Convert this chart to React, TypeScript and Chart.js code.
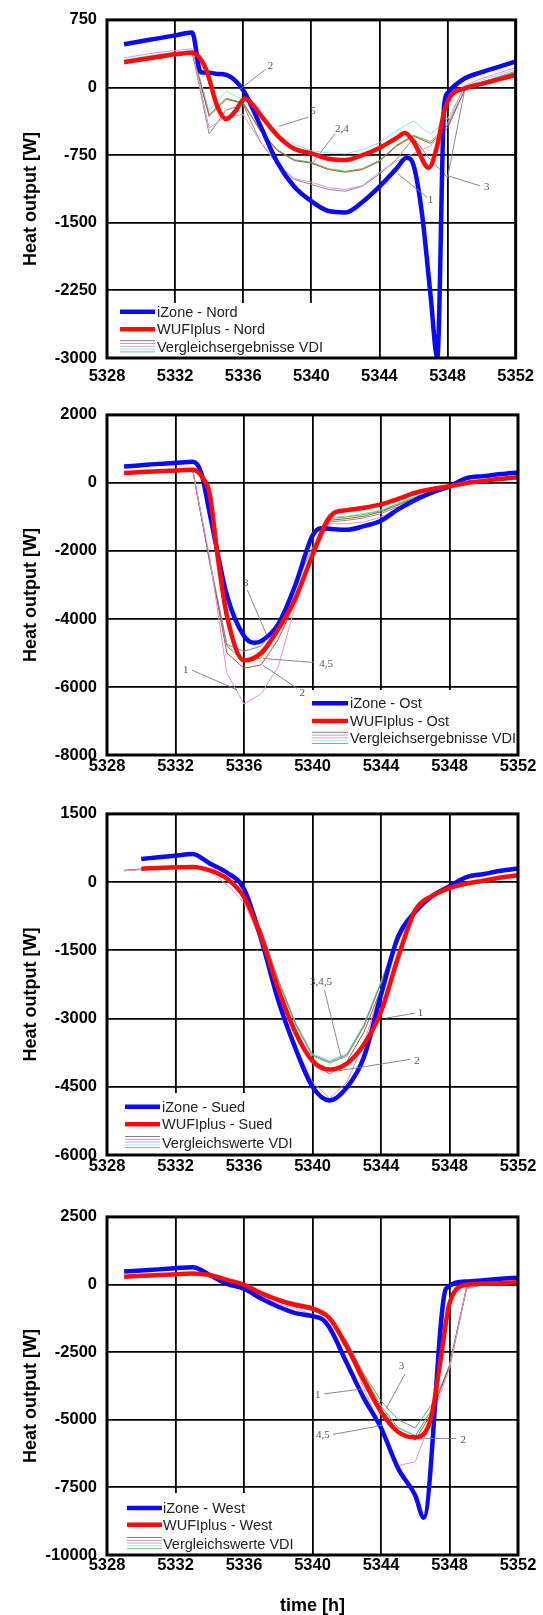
import React, { useEffect, useRef } from 'react';
import { Chart, registerables } from 'chart.js';

Chart.register(...registerables);

// ---------- shared axis values ----------
const HOURS = [5329, 5330, 5331, 5332, 5333, 5334, 5335, 5336, 5337, 5338, 5339, 5340, 5341, 5342, 5343, 5344, 5345, 5346, 5347, 5348, 5349, 5350, 5351, 5352];
const X_MIN = 5328;
const X_MAX = 5352;
const X_STEP = 4;
const Y_TITLE = 'Heat output [W]';
const X_TITLE = 'time [h]';
const VDI_COLORS = ['#e38fe3', '#b5503c', '#8a8a8a', '#4cc24c', '#86e3ea'];
const VDI_LEGEND_COLORS = ['#7f7f7f', '#b0a4c8', '#e49ae4', '#9ee6ee', '#66cc66'];

// ---------- Nord ----------
const NORD_IZONE_X = [5329, 5330, 5331, 5332, 5333, 5333.5, 5334, 5334.5, 5335, 5336, 5337, 5338, 5339, 5340, 5341, 5342, 5343, 5344, 5345, 5345.6, 5346, 5346.5, 5347, 5347.4, 5347.8, 5348, 5349, 5350, 5351, 5352];
const NORD_IZONE_Y = [480, 513, 545, 578, 610, 170, 165, 150, 140, -30, -420, -830, -1100, -1260, -1370, -1385, -1270, -1100, -900, -780, -860, -1400, -2300, -2990, -200, -60, 100, 170, 230, 290];
const NORD_WUFI_X = [5329, 5330, 5331, 5332, 5333, 5333.8, 5334.5, 5335, 5335.5, 5336.1, 5336.6, 5337, 5338, 5339, 5340, 5341, 5342, 5343, 5344, 5345, 5345.5, 5346, 5346.9, 5347.4, 5347.8, 5348.2, 5349, 5350, 5351, 5352];
const NORD_WUFI_Y = [280, 310, 340, 368, 385, 210, -220, -350, -270, -125, -200, -300, -530, -680, -730, -790, -805, -750, -670, -560, -505, -600, -890, -640, -270, -90, -10, 40, 90, 140];
const NORD_VDI_1 = [330, 360, 390, 410, 430, -450, -320, -300, -600, -850, -1010, -1050, -1110, -1130, -1090, -940, -820, -730, -650, -400, 20, 100, 160, 220];
const NORD_VDI_2 = [290, 320, 350, 370, 390, -320, -130, -175, -480, -700, -810, -840, -910, -940, -910, -820, -650, -540, -620, -450, -30, 50, 100, 160];
const NORD_VDI_3 = [300, 330, 360, 385, 400, -515, -250, -190, -600, -850, -1020, -1075, -1130, -1150, -1095, -960, -800, -560, -800, -1000, -30, 60, 120, 180];
const NORD_VDI_4 = [300, 330, 355, 375, 395, -300, -120, -170, -470, -690, -800, -830, -900, -930, -900, -810, -640, -530, -600, -420, -30, 60, 110, 170];
const NORD_VDI_5 = [310, 340, 370, 390, 410, -260, -40, -140, -340, -520, -630, -700, -725, -735, -690, -610, -480, -370, -520, -350, 0, 80, 140, 200];
const NORD_Y = { min: -3000, max: 750, step: 750 };
const NORD_NOTES = [
  { text: '2', tx: 5337.6, ty: 235, x1: 5337.3, y1: 200, x2: 5335.8, y2: -20 },
  { text: '5', tx: 5340.1, ty: -260, x1: 5339.8, y1: -330, x2: 5338.1, y2: -430 },
  { text: '2,4', tx: 5341.8, ty: -463, x1: 5341.4, y1: -510, x2: 5340.1, y2: -832 },
  { text: '1', tx: 5347.0, ty: -1254, x1: 5346.8, y1: -1220, x2: 5345.1, y2: -960 },
  { text: '3', tx: 5350.3, ty: -1107, x1: 5349.9, y1: -1090, x2: 5348.0, y2: -978 },
];

// ---------- Ost ----------
const OST_IZONE_X = [5329, 5330, 5331, 5332, 5333, 5333.5, 5334, 5335, 5336, 5336.6, 5337, 5338, 5339, 5340, 5340.5, 5341, 5342, 5343, 5344, 5345, 5346, 5347, 5348, 5349, 5350, 5351, 5352];
const OST_IZONE_Y = [480, 520, 560, 590, 620, 300, -900, -3300, -4500, -4700, -4650, -4150, -3000, -1550, -1330, -1350, -1380, -1270, -1110, -780, -500, -280, -100, 140, 200, 260, 310];
const OST_WUFI_X = [5329, 5330, 5331, 5332, 5333, 5333.6, 5334, 5334.5, 5335, 5336, 5337, 5338, 5339, 5340, 5340.8, 5341.3, 5342, 5343, 5344, 5345, 5346, 5347, 5348, 5349, 5350, 5351, 5352];
const OST_WUFI_Y = [290, 320, 345, 365, 385, 145, -340, -2300, -3900, -5220, -5000, -4300, -3400, -2120, -1160, -870, -800, -730, -630, -470, -290, -180, -100, 0, 60, 120, 170];
const OST_VDI_1 = [300, 330, 350, 370, 380, -2200, -5600, -6500, -6200, -5400, -3600, -2100, -1200, -1200, -1150, -1000, -750, -500, -300, -130, -20, 50, 100, 150];
const OST_VDI_2 = [290, 320, 345, 365, 380, -2300, -5000, -5450, -5350, -4600, -3500, -2200, -1100, -1050, -980, -850, -650, -450, -270, -120, -20, 50, 100, 150];
const OST_VDI_3 = [300, 330, 350, 370, 385, -2350, -4750, -4950, -4800, -4100, -3000, -1900, -1150, -1100, -1030, -900, -700, -480, -280, -120, -20, 50, 100, 150];
const OST_VDI_4 = [300, 330, 350, 370, 385, -2300, -4800, -5250, -5150, -4400, -3300, -2050, -1050, -1000, -930, -820, -620, -420, -250, -110, -20, 50, 100, 150];
const OST_VDI_5 = [300, 330, 350, 370, 385, -2250, -4750, -5200, -5100, -4350, -3250, -2000, -1000, -980, -900, -800, -600, -400, -240, -110, -20, 50, 100, 150];
const OST_Y = { min: -8000, max: 2000, step: 2000 };
const OST_NOTES = [
  { text: '3', tx: 5336.1, ty: -2946, x1: 5336.2, y1: -3150, x2: 5337.3, y2: -4444 },
  { text: '1', tx: 5332.6, ty: -5506, x1: 5332.95, y1: -5500, x2: 5335.6, y2: -6086 },
  { text: '2', tx: 5339.4, ty: -6182, x1: 5339.1, y1: -6040, x2: 5337.1, y2: -5361 },
  { text: '4,5', tx: 5340.8, ty: -5313, x1: 5340.1, y1: -5280, x2: 5337.1, y2: -5160 },
];

// ---------- Sued ----------
const SUED_IZONE_X = [5330, 5331, 5332, 5333, 5334, 5335, 5336, 5337, 5338, 5339, 5340, 5341, 5342, 5343, 5344, 5345, 5346, 5347, 5348, 5349, 5350, 5351, 5352];
const SUED_IZONE_Y = [510, 545, 580, 620, 410, 210, -150, -1250, -2600, -3650, -4500, -4800, -4520, -3850, -2480, -1200, -650, -300, -90, 110, 180, 250, 300];
const SUED_WUFI_X = [5330, 5331, 5332, 5333, 5334, 5335, 5336, 5337, 5338, 5339, 5340, 5341, 5342, 5343, 5344, 5345, 5346, 5347, 5348, 5349, 5350, 5351, 5352];
const SUED_WUFI_Y = [295, 310, 325, 335, 260, 80, -330, -1200, -2350, -3300, -3930, -4120, -3990, -3570, -2850, -1650, -620, -300, -130, -30, 30, 100, 150];
const SUED_VDI_1 = [250, 280, 310, 330, 340, 230, -60, -450, -1300, -2550, -3600, -4400, -4750, -4400, -3550, -2350, -1250, -700, -350, -130, -20, 40, 100, 160];
const SUED_VDI_2 = [250, 280, 310, 330, 340, 250, 50, -320, -1150, -2300, -3250, -3950, -4220, -3950, -3300, -2350, -1300, -560, -300, -130, -30, 30, 90, 150];
const SUED_VDI_3 = [260, 285, 315, 335, 345, 255, 60, -280, -1050, -2150, -3100, -3800, -3950, -3800, -3150, -2200, -1200, -550, -300, -130, -30, 30, 90, 150];
const SUED_VDI_4 = [255, 285, 315, 335, 345, 255, 55, -290, -1080, -2180, -3120, -3820, -3980, -3830, -3180, -2230, -1220, -560, -300, -130, -30, 30, 90, 150];
const SUED_VDI_5 = [260, 290, 320, 340, 350, 260, 60, -270, -1040, -2120, -3070, -3780, -3920, -3770, -3120, -2180, -1180, -540, -300, -130, -30, 30, 90, 150];
const SUED_Y = { min: -6000, max: 1500, step: 1500 };
const SUED_NOTES = [
  { text: '3,4,5', tx: 5340.5, ty: -2192, x1: 5340.7, y1: -2373, x2: 5341.7, y2: -3897 },
  { text: '1', tx: 5346.3, ty: -2881, x1: 5346.0, y1: -2881, x2: 5344.3, y2: -2990 },
  { text: '2', tx: 5346.1, ty: -3933, x1: 5345.7, y1: -3897, x2: 5341.5, y2: -4151 },
];

// ---------- West ----------
const WEST_IZONE_X = [5329, 5330, 5331, 5332, 5333, 5334, 5335, 5336, 5337, 5338, 5339, 5340, 5340.6, 5341, 5342, 5343, 5344, 5345, 5346, 5346.5, 5347.8, 5349, 5350, 5351, 5352];
const WEST_IZONE_Y = [480, 520, 560, 600, 640, 355, 25, -150, -520, -820, -1060, -1170, -1290, -1600, -2900, -4200, -5300, -6800, -7800, -8620, -150, 110, 160, 210, 250];
const WEST_WUFI_X = [5329, 5330, 5331, 5332, 5333, 5334, 5335, 5336, 5337, 5338, 5339, 5340, 5341, 5342, 5343, 5344, 5345, 5346, 5346.7, 5347, 5347.5, 5348, 5349, 5350, 5351, 5352];
const WEST_WUFI_Y = [290, 320, 350, 380, 410, 350, 170, -10, -320, -570, -750, -880, -1250, -2300, -3550, -4700, -5450, -5650, -5330, -4700, -2700, -700, -10, 30, 60, 80];
const WEST_VDI_1 = [300, 330, 360, 380, 400, 300, 50, -200, -450, -700, -900, -1100, -1350, -2300, -3850, -5300, -6700, -6550, -4900, -3100, -100, 0, 50, 100];
const WEST_VDI_2 = [290, 320, 350, 370, 390, 320, 130, -60, -380, -640, -830, -950, -1250, -2150, -3400, -4600, -5400, -5750, -4700, -3000, -100, 0, 50, 100];
const WEST_VDI_3 = [300, 330, 360, 380, 400, 330, 140, -50, -370, -630, -820, -950, -1200, -2100, -3300, -4300, -5000, -5300, -4400, -3100, -150, 0, 50, 100];
const WEST_VDI_4 = [295, 325, 355, 375, 395, 325, 135, -55, -375, -635, -825, -950, -1230, -2130, -3350, -4500, -5300, -5600, -4600, -3000, -100, 0, 50, 100];
const WEST_VDI_5 = [295, 325, 355, 375, 395, 325, 135, -55, -370, -630, -820, -945, -1220, -2120, -3340, -4480, -5280, -5580, -4580, -2950, -100, 0, 50, 100];
const WEST_Y = { min: -10000, max: 2500, step: 2500 };
const WEST_NOTES = [
  { text: '3', tx: 5345.2, ty: -3004, x1: 5345.4, y1: -3309, x2: 5344.3, y2: -4591 },
  { text: '1', tx: 5340.3, ty: -4103, x1: 5340.7, y1: -4042, x2: 5342.9, y2: -3858 },
  { text: '4,5', tx: 5340.6, ty: -5568, x1: 5341.2, y1: -5543, x2: 5344.1, y2: -5201 },
  { text: '2', tx: 5348.8, ty: -5751, x1: 5348.4, y1: -5690, x2: 5346.3, y2: -5690 },
];

// ---------- panel layout ----------
const PANELS = [
  {
    key: 'nord', top: 0, height: 395, plotH: 340, xPad: 9,
    izone: [NORD_IZONE_X, NORD_IZONE_Y], wufi: [NORD_WUFI_X, NORD_WUFI_Y],
    vdi: [NORD_VDI_1, NORD_VDI_2, NORD_VDI_3, NORD_VDI_4, NORD_VDI_5], y: NORD_Y, notes: NORD_NOTES,
    labels: ['iZone - Nord', 'WUFIplus - Nord', 'Vergleichsergebnisse VDI'],
    legend: { x0: 107, y0: 303, x1: 330, y1: 358, rows: [311.7, 329.3, 346.7], lx0: 120, lx1: 155, tx: 157 },
    xTitle: false,
  },
  {
    key: 'ost', top: 395, height: 399, plotH: 342, xPad: 1.5,
    izone: [OST_IZONE_X, OST_IZONE_Y], wufi: [OST_WUFI_X, OST_WUFI_Y],
    vdi: [OST_VDI_1, OST_VDI_2, OST_VDI_3, OST_VDI_4, OST_VDI_5], y: OST_Y, notes: OST_NOTES,
    labels: ['iZone - Ost', 'WUFIplus - Ost', 'Vergleichsergebnisse VDI'],
    legend: { x0: 308, y0: 295, x1: 518, y1: 361, rows: [308.3, 326, 343.3], lx0: 312, lx1: 348, tx: 350 },
    xTitle: false,
  },
  {
    key: 'sued', top: 794, height: 403, plotH: 343, xPad: 1.5,
    izone: [SUED_IZONE_X, SUED_IZONE_Y], wufi: [SUED_WUFI_X, SUED_WUFI_Y],
    vdi: [SUED_VDI_1, SUED_VDI_2, SUED_VDI_3, SUED_VDI_4, SUED_VDI_5], y: SUED_Y, notes: SUED_NOTES,
    labels: ['iZone - Sued', 'WUFIplus - Sued', 'Vergleichswerte VDI'],
    legend: { x0: 107, y0: 299, x1: 308, y1: 361.5, rows: [312.7, 330.3, 348.5], lx0: 125, lx1: 160, tx: 162 },
    xTitle: false,
  },
  {
    key: 'west', top: 1197, height: 418, plotH: 340, xPad: 1,
    izone: [WEST_IZONE_X, WEST_IZONE_Y], wufi: [WEST_WUFI_X, WEST_WUFI_Y],
    vdi: [WEST_VDI_1, WEST_VDI_2, WEST_VDI_3, WEST_VDI_4, WEST_VDI_5], y: WEST_Y, notes: WEST_NOTES,
    labels: ['iZone - West', 'WUFIplus - West', 'Vergleichswerte VDI'],
    legend: { x0: 107, y0: 296, x1: 308, y1: 358, rows: [311, 327.7, 346.5], lx0: 127, lx1: 162, tx: 163 },
    xTitle: true,
  },
];

const WIDTH = 543;
const PLOT_TOP = 18;
const PLOT_LEFT = 107;
const PLOT_RIGHT_PAD = 25;
const BLUE = '#0a0af5';
const RED = '#ff0a0a';
const SANS = '"Liberation Sans", Arial, sans-serif';
const SERIF = '"Liberation Serif", "Times New Roman", serif';

const pts = (xs: number[], ys: number[]) => xs.map((x, i) => ({ x, y: ys[i] }));

function makeOverlay(p: any) {
  return {
    id: 'overlay_' + p.key,
    afterDatasetsDraw(chart: any) {
      const { ctx, scales } = chart;
      const xs = scales.x;
      const ys = scales.y;
      ctx.save();
      // annotation leaders and labels
      ctx.strokeStyle = '#7a7a7a';
      ctx.lineWidth = 0.9;
      ctx.fillStyle = '#555';
      ctx.font = '11px ' + SERIF;
      ctx.textAlign = 'center';
      ctx.textBaseline = 'middle';
      p.notes.forEach((n: any) => {
        ctx.beginPath();
        ctx.moveTo(xs.getPixelForValue(n.x1), ys.getPixelForValue(n.y1));
        ctx.lineTo(xs.getPixelForValue(n.x2), ys.getPixelForValue(n.y2));
        ctx.stroke();
        ctx.fillText(n.text, xs.getPixelForValue(n.tx), ys.getPixelForValue(n.ty));
      });
      // legend box
      const L = p.legend;
      ctx.fillStyle = '#fff';
      ctx.fillRect(L.x0, L.y0, L.x1 - L.x0, L.y1 - L.y0);
      ctx.lineCap = 'butt';
      [BLUE, RED].forEach((c, i) => {
        ctx.strokeStyle = c;
        ctx.lineWidth = 4.5;
        ctx.beginPath();
        ctx.moveTo(L.lx0, L.rows[i]);
        ctx.lineTo(L.lx1, L.rows[i]);
        ctx.stroke();
      });
      VDI_LEGEND_COLORS.forEach((c, i) => {
        ctx.strokeStyle = c;
        ctx.lineWidth = 1;
        const yy = L.rows[2] - 6 + i * 2.8;
        ctx.beginPath();
        ctx.moveTo(L.lx0, yy);
        ctx.lineTo(L.lx1, yy);
        ctx.stroke();
      });
      ctx.fillStyle = '#222';
      ctx.font = '14.5px ' + SANS;
      ctx.textAlign = 'left';
      ctx.textBaseline = 'middle';
      p.labels.forEach((t: string, i: number) => ctx.fillText(t, L.tx, L.rows[i] + 1));
      ctx.restore();
    },
    afterDraw(chart: any) {
      const { ctx, chartArea: a } = chart;
      ctx.save();
      ctx.strokeStyle = '#000';
      ctx.lineWidth = 3;
      ctx.strokeRect(a.left, a.top, a.right - a.left, a.bottom - a.top);
      ctx.fillStyle = '#000';
      ctx.font = 'bold 18px ' + SANS;
      ctx.textAlign = 'center';
      ctx.textBaseline = 'middle';
      ctx.save();
      ctx.translate(31, (a.top + a.bottom) / 2 + 10);
      ctx.rotate(-Math.PI / 2);
      ctx.fillText(Y_TITLE, 0, 0);
      ctx.restore();
      if (p.xTitle) {
        ctx.fillText(X_TITLE, (a.left + a.right) / 2, 409);
      }
      ctx.restore();
    },
  };
}

function Panel({ p }: { p: any }) {
  const ref = useRef<HTMLCanvasElement | null>(null);
  useEffect(() => {
    if (!ref.current) return;
    const datasets: any[] = [
      { label: p.labels[1], data: pts(p.wufi[0], p.wufi[1]), borderColor: RED, borderWidth: 4.5, cubicInterpolationMode: 'monotone', pointRadius: 0, fill: false },
      { label: p.labels[0], data: pts(p.izone[0], p.izone[1]), borderColor: BLUE, borderWidth: 4.5, cubicInterpolationMode: 'monotone', pointRadius: 0, fill: false },
      ...p.vdi.map((ys: number[], i: number) => ({
        label: 'VDI ' + (i + 1), data: pts(HOURS, ys), borderColor: VDI_COLORS[i], borderWidth: 1, tension: 0, pointRadius: 0, fill: false,
      })),
    ];
    const xAxisH = p.height - PLOT_TOP - p.plotH;
    const chart = new Chart(ref.current, {
      type: 'line',
      data: { datasets },
      plugins: [makeOverlay(p)],
      options: {
        animation: false,
        responsive: false,
        maintainAspectRatio: false,
        devicePixelRatio: 1,
        layout: { padding: { top: PLOT_TOP, right: PLOT_RIGHT_PAD, left: 0, bottom: 0 } },
        plugins: { legend: { display: false }, tooltip: { enabled: false }, title: { display: false } },
        elements: { line: { borderCapStyle: 'butt', borderJoinStyle: 'round' } },
        scales: {
          x: {
            type: 'linear', min: X_MIN, max: X_MAX,
            ticks: { stepSize: X_STEP, color: '#000', padding: p.xPad, font: { family: SANS, size: 16.5, weight: 'bold' }, callback: (v: any) => String(v), maxRotation: 0, autoSkip: false },
            grid: { color: '#000', lineWidth: 1.8, drawTicks: false },
            border: { display: false },
            afterFit: (s: any) => { s.height = xAxisH; },
          },
          y: {
            type: 'linear', min: p.y.min, max: p.y.max,
            ticks: { stepSize: p.y.step, color: '#000', padding: 10, font: { family: SANS, size: 16.5, weight: 'bold' }, callback: (v: any) => String(v) },
            grid: { color: '#000', lineWidth: 1.8, drawTicks: false },
            border: { display: false },
            afterFit: (s: any) => { s.width = PLOT_LEFT; },
          },
        },
      } as any,
    });
    return () => chart.destroy();
  }, [p]);
  return (
    <canvas
      ref={ref}
      width={WIDTH}
      height={p.height}
      style={{ position: 'absolute', left: 0, top: p.top, width: WIDTH, height: p.height }}
    />
  );
}

export default function App() {
  return (
    <div style={{ position: 'absolute', left: 0, top: 0, width: WIDTH, height: 1615, background: '#fff' }}>
      {PANELS.map((p) => (
        <Panel key={p.key} p={p} />
      ))}
    </div>
  );
}
